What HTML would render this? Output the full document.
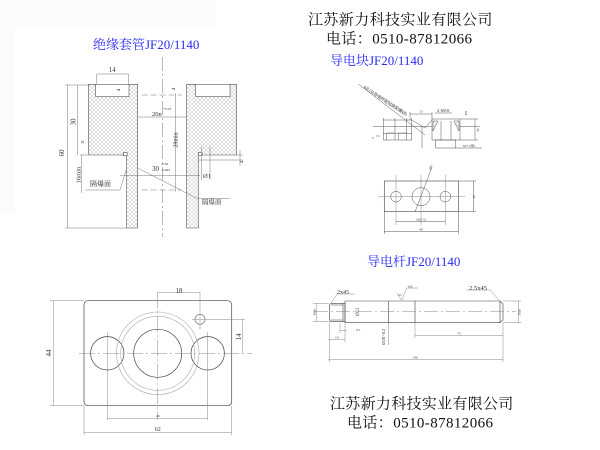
<!DOCTYPE html>
<html><head><meta charset="utf-8"><style>
html,body{margin:0;padding:0;background:#fff;}
svg{display:block;}
.t{font-family:"Liberation Serif","Noto Serif CJK SC",serif;}
</style></head><body>
<svg width="600" height="450" viewBox="0 0 600 450" xmlns="http://www.w3.org/2000/svg">
<defs>
<pattern id="h" width="4" height="4" patternUnits="userSpaceOnUse">
<path d="M0,4 L4,0 M-1,1 L1,-1 M3,5 L5,3" stroke="#b4b4b4" stroke-width="0.45"/>
<path d="M0,0 L4,4 M-1,3 L1,5 M3,-1 L5,1" stroke="#b4b4b4" stroke-width="0.45"/>
</pattern>
</defs>
<rect width="600" height="450" fill="#fff"/>
<rect x="0" y="0" width="216" height="27" fill="#fbfbfb"/>
<rect x="0" y="27" width="15" height="186" fill="#fbfbfb"/>

<!-- Header text -->
<g class="t" fill="#111">
<text x="308" y="24.5" font-size="15" letter-spacing="0.4">江苏新力科技实业有限公司</text>
<text x="326" y="43.5" font-size="15" letter-spacing="0.4">电话：0510-87812066</text>
<text x="330" y="408.5" font-size="15" letter-spacing="0.3">江苏新力科技实业有限公司</text>
<text x="347" y="427.5" font-size="15" letter-spacing="0.4">电话：0510-87812066</text>
</g>
<g class="t" fill="#2a2af5" font-size="13">
<text x="93" y="49">绝缘套管JF20/1140</text>
<text x="330" y="65">导电块JF20/1140</text>
<text x="367" y="266">导电杆JF20/1140</text>
</g>

<!-- ============ Tube (top-left) ============ -->
<g stroke="#555" stroke-width="0.6" fill="none">
<path d="M88.3,84.3 H137.7 V228 H126.7 V155 H88.3 Z" fill="url(#h)"/>
<path d="M186.7,84.3 H236.7 V155 H198.3 V228 H186.7 Z" fill="url(#h)"/>
<rect x="95.7" y="84.3" width="33.3" height="12.4" fill="#fff"/>
<rect x="195.7" y="84.3" width="34.3" height="12.4" fill="#fff"/>
<path d="M123.3,152.3 h2.5 a1.7,1.7 0 0 1 0,3.4 h-2.5 Z" fill="#fff"/>
<path d="M198.3,152.3 h2.5 a1.7,1.7 0 0 1 0,3.4 h-2.5 Z" fill="#fff"/>
</g>
<g stroke="#777" stroke-width="0.5" fill="none">
<path d="M65,85 H88 M65,228 H126.7 M80,155 H88.3 M236.7,155 H243 M198.3,160 H243"/>
<path d="M67.7,85 V228 M77.7,85 V155 M81.7,155 V193 M96.7,74 V84 M128.3,74 V84 M96.7,74 H128.3"/>
<path d="M137.7,117 H186.7 M120,175.7 H200 M175.7,93 V191.7"/>
<path d="M201.7,146.7 V180 M210,146.7 V180 M240,150 V166"/>
<path d="M138.3,168.3 L196.7,198.3 H230 M120,190 L126,170 M85,190 H120"/>
<path d="M162.3,57 V237" stroke-dasharray="14,3,2,3"/>
<path d="M141.7,95 H181.7 M141.7,190 H181.7" stroke-dasharray="6,3"/>
</g>
<g class="t" fill="#333">
<text x="112.3" y="72" font-size="7" text-anchor="middle">14</text>
<text transform="translate(64,153) rotate(-90)" font-size="7" text-anchor="middle">60</text>
<text transform="translate(75.5,122) rotate(-90)" font-size="7" text-anchor="middle">30</text>
<text transform="translate(84,142) rotate(-90)" font-size="4" text-anchor="middle">11</text>
<text transform="translate(80.5,175) rotate(-90)" font-size="6.5" text-anchor="middle">16min</text>
<text transform="translate(120,90) rotate(-90)" font-size="5" text-anchor="middle">4</text>
<text transform="translate(175,89) rotate(-90)" font-size="5" text-anchor="middle">4</text>
<text transform="translate(243,162) rotate(-90)" font-size="5" text-anchor="middle">4</text>
<text x="152" y="116" font-size="6.5">20n</text>
<text x="163" y="110" font-size="3.5">+0.33</text>
<text transform="translate(177.5,140) rotate(-90)" font-size="6" text-anchor="middle">28min</text>
<text x="152" y="171" font-size="7">30</text>
<text x="161" y="165" font-size="3.5">-0.02</text>
<text x="161" y="171" font-size="3.5">-0.093</text>
<text x="203" y="178" font-size="6.5">Ø1</text>
<text x="90" y="186" font-size="7" font-family="Noto Serif CJK SC, serif">隔爆面</text>
<text x="202" y="204" font-size="6.5" font-family="Noto Serif CJK SC, serif">隔爆面</text>
</g>

<!-- ============ Plate (bottom-left) ============ -->
<g stroke="#444" stroke-width="0.7" fill="none">
<rect x="84" y="300.7" width="147.7" height="105" rx="4"/>
<circle cx="157.7" cy="353.3" r="24"/>
<circle cx="107.3" cy="353.3" r="16.7"/>
<circle cx="207.7" cy="353.3" r="16.7"/>
<circle cx="200" cy="319.3" r="5" stroke="#777"/>
</g>
<g stroke="#aaa" stroke-width="0.6" fill="none">
<circle cx="157.7" cy="353.3" r="37"/>
<circle cx="157.7" cy="353.3" r="41.3"/>
</g>
<g stroke="#888" stroke-width="0.5" fill="none">
<path d="M79,353.3 H252" stroke-dasharray="16,3,2,3"/>
<path d="M157.7,292 V420" stroke-dasharray="16,3,2,3"/>
<path d="M107.3,332 V420 M207.7,332 V420 M200,292 V330"/>
<path d="M157.7,292.7 H200 M192,319.3 H245 M242.3,319.3 V353.3 M53.3,300.7 V405.7 M50,300.7 H84 M50,405.7 H84"/>
<path d="M107.3,418.3 H207.7 M84,405.7 V435 M231.7,405.7 V435 M84,432.3 H231.7"/>
</g>
<g class="t" fill="#333">
<text x="179" y="293" font-size="7" text-anchor="middle">18</text>
<text transform="translate(241,336.7) rotate(-90)" font-size="7" text-anchor="middle">14</text>
<text transform="translate(51,353) rotate(-90)" font-size="7" text-anchor="middle">44</text>
<text x="157.7" y="417" font-size="3.5" text-anchor="middle">40</text>
<text x="157.7" y="431" font-size="6" text-anchor="middle">62</text>
</g>

<!-- ============ Block (top-right) ============ -->
<g stroke="#555" stroke-width="0.5" fill="none">
<path d="M358.3,84 L425,135"/>
<path d="M383.3,120 H411.7 M373,126.7 H432 M383.3,133.3 H411.7 M383.3,140 H411.7"/>
<path d="M383.3,118 V140 M386.7,133 V140 M395,118 V140 M398.3,133 V140 M406.7,118 V140 M411.7,118 V140"/>
<path d="M386.7,133 H395 M398.3,133 H406.7"/>
<path d="M411.7,120 L425,128 L432,120 M410,114 H432 M410,112 V120 M432,112 V120"/>
<rect x="432" y="119" width="28" height="21"/>
<path d="M433,121 L438,121 L433,131 Z M459,121 L454,121 L459,131 Z M441,121 V140 M451,121 V140" fill="url(#h)"/>
<rect x="435.7" y="140" width="20" height="8"/>
<path d="M455.7,148 H482 M460,119 H478 M460,140 H478 M475,119 V140 M435,113 H452 M460,126.7 H480"/>
<path d="M422,126 V148 M376,136 H380"/>
<rect x="384.3" y="181" width="74" height="30.7" stroke="#444" stroke-width="0.6"/>
<circle cx="396" cy="196.7" r="5.3" stroke="#444"/>
<circle cx="421" cy="196.7" r="9" stroke="#444"/>
<circle cx="445.3" cy="196.7" r="5.3" stroke="#444"/>
<path d="M378,196.7 H465 M396,175 V225 M421,175 V225 M445.3,175 V225" stroke="#888"/>
<path d="M458.3,181 H476 M458.3,211.7 H476 M473.3,181 V211.7"/>
<path d="M396,221.7 H445.3 M384.3,211.7 V234 M458.3,211.7 V234 M384.3,231.7 H458.3"/>
<path d="M431.7,167.7 L415,212"/>
</g>
<g class="t" fill="#333">
<text transform="translate(363,88) rotate(33)" font-size="4.2" font-family="Noto Sans CJK SC, sans-serif">4孔(与导电杆配钻装配螺纹)</text>
<text x="421" y="112.5" font-size="3.5" text-anchor="middle">15</text>
<text x="437" y="112" font-size="4.5">2-M10</text>
<text transform="translate(467,113) rotate(-90)" font-size="3.5" text-anchor="middle">Ø5</text>
<text transform="translate(479,130) rotate(-90)" font-size="3.5" text-anchor="middle">20</text>
<text transform="translate(374,138) rotate(-90)" font-size="3.5" text-anchor="middle">5</text>
<text x="463" y="147" font-size="3.5">M7.5深1</text>
<text transform="translate(431,170) rotate(-68)" font-size="3.5">Ø9</text>
<text transform="translate(475,196.7) rotate(-90)" font-size="3.5" text-anchor="middle">20</text>
<text x="421" y="220.5" font-size="3.2" text-anchor="middle">d1(5.5)</text>
<text x="421" y="230.5" font-size="3.5" text-anchor="middle">40</text>
</g>

<!-- ============ Rod (bottom-right) ============ -->
<g stroke="#444" stroke-width="0.6" fill="none">
<path d="M331,303.3 H345 V321.7 H331 L329.3,319.7 V305.3 Z"/>
<path d="M331,305 H343 M331,320 H343 M343,303.3 V321.7"/>
<path d="M345,301 H500 L503,304 V319.7 L500,322.7 H345 Z"/>
<path d="M388.3,301 V322.7 M415,301 V322.7 M500,301 V322.7"/>
</g>
<g stroke="#888" stroke-width="0.5" fill="none">
<path d="M314,311.7 H516" stroke-dasharray="14,3,2,3"/>
<path d="M313,303.3 H329 M313,321.7 H329 M316.7,303.3 V321.7"/>
<path d="M503,301 H521 M503,322.7 H521 M518.3,301 V322.7"/>
<path d="M337,294 H355 M337,294 L331,303.3"/>
<path d="M466,290 H490 L500,301"/>
<path d="M396.7,293.3 L401.7,300 L406.7,288 H418"/>
<path d="M329.3,321.7 V362 M345,322.7 V342 M340,322.7 V333 M503,322.7 V362 M415,322.7 V338 M388.3,322.7 V345"/>
<path d="M340,330.7 H346.7 M328.3,339.3 H345 M415,335.7 H503 M328.3,359.3 H503"/>
</g>
<g class="t" fill="#333">
<text x="343" y="294" font-size="6" text-anchor="middle">2x45</text>
<text x="478" y="290" font-size="6.5" text-anchor="middle">2.5x45</text>
<text x="408" y="287.5" font-size="3.5">0.8</text>
<text x="398" y="296" font-size="3">3.2</text>
<text transform="translate(315.5,312) rotate(-90)" font-size="3.5" text-anchor="middle">M20</text>
<text transform="translate(520.5,312) rotate(-90)" font-size="3.5" text-anchor="middle">Ø20</text>
<text transform="translate(359,311.7) rotate(-90)" font-size="5" text-anchor="middle">Ø11</text>
<text transform="translate(385,336.7) rotate(-90)" font-size="4.5" text-anchor="middle">Ø20 -0.2</text>
<text x="358" y="331" font-size="3.5" text-anchor="middle">3.5</text>
<text x="336.7" y="338.5" font-size="3.5" text-anchor="middle">10</text>
<text x="459" y="334.5" font-size="3.5" text-anchor="middle">75</text>
<text x="415" y="358.5" font-size="3.5" text-anchor="middle">140</text>
</g>
</svg>
</body></html>
